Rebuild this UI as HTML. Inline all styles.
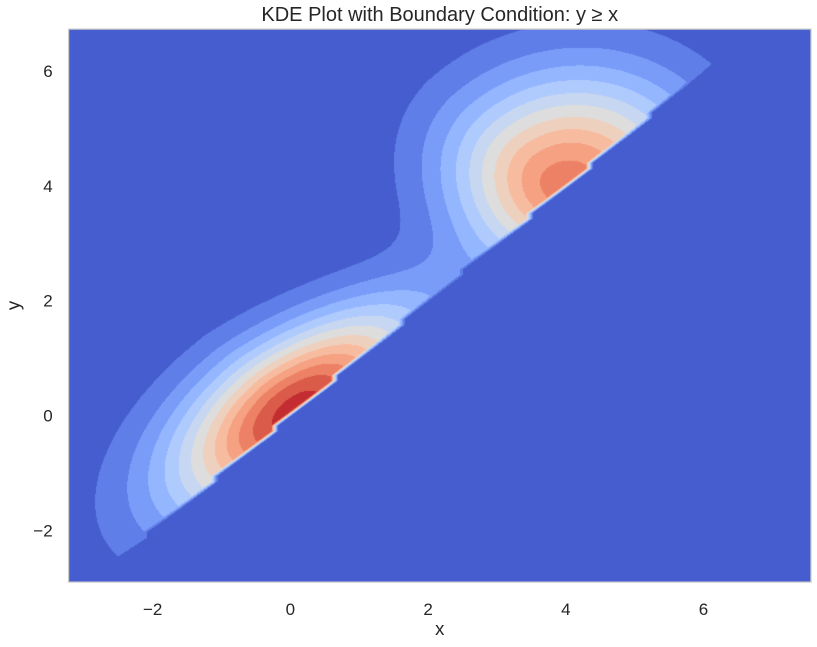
<!DOCTYPE html>
<html>
<head>
<meta charset="utf-8">
<style>
html,body{margin:0;padding:0;background:#ffffff;}
#wrap{position:relative;width:817px;height:647px;overflow:hidden;background:#ffffff;}
#plotbg{position:absolute;left:69px;top:29px;width:742px;height:553px;background:#465dce;}
#c{position:absolute;left:0;top:0;}
#ov{position:absolute;left:0;top:0;}
text{font-family:"Liberation Sans",Arial,sans-serif;fill:#262626;}
</style>
</head>
<body>
<div id="wrap">
<div id="plotbg"></div>
<canvas id="c" width="817" height="647"></canvas>
<svg id="ov" width="817" height="647" viewBox="0 0 817 647">
  <rect x="68.6" y="29.1" width="742.4" height="553" fill="none" stroke="#cccccc" stroke-width="1.25"/>
  <text x="439.75" y="21" font-size="20" text-anchor="middle">KDE Plot with Boundary Condition: y ≥ x</text>
  <g font-size="17" text-anchor="middle">
    <text x="152.7" y="615">−2</text>
    <text x="290.4" y="615">0</text>
    <text x="428.1" y="615">2</text>
    <text x="565.8" y="615">4</text>
    <text x="703.5" y="615">6</text>
  </g>
  <g font-size="17" text-anchor="end">
    <text x="52.7" y="76.9">6</text>
    <text x="52.7" y="191.8">4</text>
    <text x="52.7" y="306.7">2</text>
    <text x="52.7" y="421.6">0</text>
    <text x="52.7" y="536.5">−2</text>
  </g>
  <text x="439.75" y="635" font-size="18.5" text-anchor="middle">x</text>
  <text transform="translate(19.5,305.5) rotate(-90)" font-size="18.5" text-anchor="middle">y</text>
</svg>
</div>
<script>
(function(){
  var cv=document.getElementById('c');
  if(!cv||!cv.getContext) return;
  var ctx=cv.getContext('2d');
  var T=[[59,76,192],[68,90,204],[77,104,215],[87,117,225],[98,130,234],[108,142,241],[119,154,247],[130,165,251],[141,176,254],[152,185,255],[163,194,255],[174,201,253],[184,208,249],[194,213,244],[204,217,238],[213,219,230],[221,221,221],[229,216,209],[236,211,197],[241,204,184],[245,196,172],[247,187,159],[247,177,147],[247,166,134],[244,154,123],[241,141,111],[236,127,99],[229,112,88],[222,96,77],[213,80,66],[203,62,56],[192,40,47],[180,4,38]];
  function cm(t){
    var s=t*32; var i=Math.floor(s); if(i>31)i=31; if(i<0)i=0; var f=s-i;
    var a=T[i],b=T[i+1];
    return [Math.round(a[0]+(b[0]-a[0])*f),Math.round(a[1]+(b[1]-a[1])*f),Math.round(a[2]+(b[2]-a[2])*f)];
  }
  var NB=13, cols=[];
  for(var k=0;k<NB;k++) cols.push(cm((k+0.5)/NB));

  var S=Math.SQRT1_2;
  function g(du,v,su,sv){return Math.exp(-du*du/(2*su*su)-v*v/(2*sv*sv));}
  function dens(x,y){
    var u=(x+y)*S, v=(y-x)*S;
    var du=u-0.12;
    var sf=du>0?(1-0.07*du):(1-0.02*du); if(sf<0.75)sf=0.75; if(sf>1.25)sf=1.25;
    var a=0.85*g(du,v,1.5,0.78*sf)+0.15*g(du,v,2.1,1.05*sf);
    var db=u-5.68;
    var su=db<0?1.05:1.37;
    var b=0.84*g(db,v,su,1.25);
    return a+b;
  }
  var N=100, xmin=-3.22, xmax=7.56, ymin=-2.9, ymax=6.73;
  var dx=(xmax-xmin)/(N-1), dy=(ymax-ymin)/(N-1);
  var Z=new Float64Array(N*N), zmax=0;
  for(var j=0;j<N;j++){
    var y=ymin+j*dy;
    for(var i=0;i<N;i++){
      var x=xmin+i*dx;
      var z=(y>=x)?dens(x,y):0;
      Z[j*N+i]=z; if(z>zmax)zmax=z;
    }
  }
  var Ltop=zmax/0.96;
  var X0=69, X1=811, Y0=29, Y1=582;
  var w=X1-X0, h=Y1-Y0;
  var img=ctx.createImageData(w,h);
  var d=img.data;
  for(var py=0;py<h;py++){
    var yy=(415.5-(Y0+py+0.5))/57.45;
    var gj=(yy-ymin)/dy; if(gj<0)gj=0; if(gj>N-1.000001)gj=N-1.000001;
    var j0=Math.floor(gj), fj=gj-j0;
    for(var px=0;px<w;px++){
      var xx=(X0+px+0.5-290.4)/68.85;
      var gi=(xx-xmin)/dx; if(gi<0)gi=0; if(gi>N-1.000001)gi=N-1.000001;
      var i0=Math.floor(gi), fi=gi-i0;
      var z00=Z[j0*N+i0], z01=Z[j0*N+i0+1], z10=Z[(j0+1)*N+i0], z11=Z[(j0+1)*N+i0+1];
      var z;
      if(fi>=fj){ z=z00+fi*(z01-z00)+fj*(z11-z01); }
      else { z=z00+fj*(z10-z00)+fi*(z11-z10); }
      var band=Math.floor(z/Ltop*NB); if(band>NB-1)band=NB-1; if(band<0)band=0;
      var c=cols[band], o=(py*w+px)*4;
      d[o]=c[0]; d[o+1]=c[1]; d[o+2]=c[2]; d[o+3]=255;
    }
  }
  ctx.putImageData(img,X0,Y0);
})();
</script>
</body>
</html>
